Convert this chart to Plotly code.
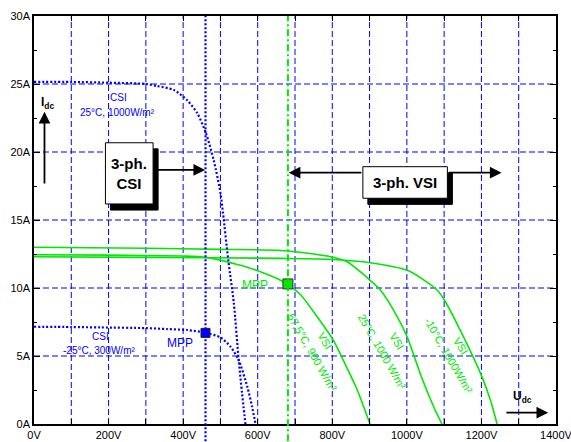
import plotly.graph_objects as go

# ---------------- data ----------------
# CSI, 25°C, 1000 W/m²
csi_hot_v = [0, 100, 200, 300, 330, 375, 411, 438, 461, 482, 500, 507, 521, 536, 549, 558, 567]
csi_hot_i = [25.15, 25.15, 25.1, 25.0, 24.85, 24.56, 23.8, 22.85, 21.4, 19.4, 17.0, 15.5, 12.06, 8.87, 4.7, 2.26, 0.0]
# CSI, -25°C, 300 W/m²
csi_cold_v = [0, 100, 179, 300, 357, 411, 461, 500, 527, 549, 572, 585, 594]
csi_cold_i = [7.15, 7.13, 7.1, 7.05, 6.98, 6.91, 6.7, 6.37, 5.69, 4.7, 2.75, 1.27, 0.0]
# VSI, 67,5°C, 900 W/m²
vsi_hot_v = [0, 200, 400, 447, 500, 536, 570, 607, 652, 681, 715, 759, 802, 831, 867, 901]
vsi_hot_i = [12.45, 12.42, 12.35, 12.3, 12.05, 11.8, 11.55, 11.2, 10.7, 10.25, 9.5, 7.9, 6.2, 4.6, 2.5, 0.0]
# VSI, 25°C, 1000 W/m²
vsi_mid_v = [0, 300, 500, 661, 750, 802, 840, 875, 900, 929, 974, 1001, 1036, 1072, 1094]
vsi_mid_i = [13.0, 12.92, 12.84, 12.76, 12.5, 12.26, 11.93, 11.2, 10.6, 9.85, 7.9, 6.4, 3.7, 1.27, 0.0]
# VSI, -10°C, 1000 W/m²
vsi_cold_v = [0, 300, 661, 802, 902, 1001, 1045, 1081, 1101, 1152, 1201, 1224, 1242]
vsi_cold_i = [12.3, 12.25, 12.18, 12.1, 11.86, 11.3, 10.6, 9.85, 9.1, 6.4, 3.5, 1.76, 0.0]

mpp_csi_v, mpp_csi_i = [460], [6.7]
mpp_vsi_v, mpp_vsi_i = [681], [10.3]

x_ticks = [0, 200, 400, 600, 800, 1000, 1200, 1400]
x_tick_text = ["0V", "200V", "400V", "600V", "800V", "1000V", "1200V", "1400V"]
y_ticks = [0, 5, 10, 15, 20, 25, 30]
y_tick_text = ["0A", "5A", "10A", "15A", "20A", "25A", "30A"]
x_grid = [100, 200, 300, 400, 500, 600, 700, 800, 900, 1000, 1100, 1200, 1300]
y_grid = [5, 10, 15, 20, 25]

vsi_labels = ["67,5°C, 900 W/m²", "25°C, 1000 W/m²", "-10°C, 1000W/m²"]
vsi_label_v = [745, 935, 1113]
vsi_label_i = [5.27, 5.32, 5.02]
vsi_tag_v = [781, 973, 1145]
vsi_tag_i = [6.1, 6.1, 5.75]

# ---------------- styles ----------------
BLUE = "#0000ff"
GREEN = "#00e800"
FONT = "Liberation Sans, Arial, sans-serif"

fig = go.Figure()

# grid (dashed blue)
for gv in x_grid:
    fig.add_shape(type="line", xref="x", yref="y", x0=gv, x1=gv, y0=0, y1=30,
                  line=dict(color=BLUE, width=1, dash="6px,3px"), layer="below")
for gi in y_grid:
    fig.add_shape(type="line", xref="x", yref="y", x0=0, x1=1400, y0=gi, y1=gi,
                  line=dict(color=BLUE, width=1, dash="6px,3px"), layer="below")

def curve(v, i, color, dash, width):
    fig.add_trace(go.Scatter(x=v, y=i, mode="lines",
                             line=dict(color=color, dash=dash, width=width,
                                       shape="spline", smoothing=0.7),
                             hoverinfo="skip", showlegend=False))

curve(vsi_hot_v, vsi_hot_i, GREEN, "solid", 1.6)
curve(vsi_mid_v, vsi_mid_i, GREEN, "solid", 1.6)
curve(vsi_cold_v, vsi_cold_i, GREEN, "solid", 1.6)
curve(csi_hot_v, csi_hot_i, BLUE, "2px,2px", 2.2)
curve(csi_cold_v, csi_cold_i, BLUE, "2px,2px", 2.2)

# vertical MPP voltage lines
fig.add_shape(type="line", xref="x", yref="paper", x0=mpp_csi_v[0], x1=mpp_csi_v[0],
              y0=-0.042, y1=1, line=dict(color=BLUE, width=2.2, dash="2px,2px"), layer="above")
fig.add_shape(type="line", xref="x", yref="paper", x0=mpp_vsi_v[0], x1=mpp_vsi_v[0],
              y0=-0.042, y1=1, line=dict(color=GREEN, width=2, dash="7px,3px,2px,3px"), layer="above")

fig.add_trace(go.Scatter(x=mpp_csi_v, y=mpp_csi_i, mode="markers",
                         marker=dict(symbol="square", size=9, color=BLUE,
                                     line=dict(color="#222222", width=1)),
                         hoverinfo="skip", showlegend=False))
fig.add_trace(go.Scatter(x=mpp_vsi_v, y=mpp_vsi_i, mode="markers",
                         marker=dict(symbol="square", size=10, color=GREEN,
                                     line=dict(color="#333333", width=1)),
                         hoverinfo="skip", showlegend=False))

# boxes with shadows
def box(v0, v1, i0, i1):
    dv, di = 13.4, 0.45
    fig.add_shape(type="rect", xref="x", yref="y", x0=v0 + dv, x1=v1 + dv, y0=i0 - di, y1=i1 - di,
                  fillcolor="black", line=dict(color="black", width=1), layer="above")
    fig.add_shape(type="rect", xref="x", yref="y", x0=v0, x1=v1, y0=i0, y1=i1,
                  fillcolor="white", line=dict(color="black", width=1), layer="above")

box(191.6, 319.4, 16.18, 20.68)
box(882, 1108.7, 16.6, 18.92)

ann = []
def text(t, v, i, color="black", size=10, angle=0, bold=False):
    ann.append(dict(x=v, y=i, xref="x", yref="y", text=(f"<b>{t}</b>" if bold else t),
                    showarrow=False, textangle=angle,
                    font=dict(family=FONT, size=size, color=color)))

def arrow(v_tip, i_tip, v_tail, i_tail):
    ann.append(dict(x=v_tip, y=i_tip, ax=v_tail, ay=i_tail, xref="x", yref="y",
                    axref="x", ayref="y", text="", showarrow=True,
                    arrowhead=2, arrowsize=1.3, arrowwidth=1.8, arrowcolor="black"))

text("3-ph.<br>CSI", 255.5, 18.45, size=15, bold=True)
text("3-ph. VSI", 995.4, 17.76, size=15, bold=True)
arrow(459, 18.68, 319.4, 18.68)
arrow(683, 18.48, 882, 18.48)
arrow(1254, 18.48, 1108.7, 18.48)
arrow(28.1, 22.96, 28.1, 17.57)
arrow(1379, 0.83, 1263, 0.83)
text("I<sub>dc</sub>", 36, 23.6, size=12, bold=True)
text("U<sub>dc</sub>", 1309, 2.0, size=12, bold=True)

text("CSI", 226.4, 24.04, color=BLUE, size=10)
text("25°C, 1000W/m²", 223.8, 22.94, color=BLUE, size=10)
text("CSI", 178.2, 6.47, color=BLUE, size=10)
text("-25°C, 300W/m²", 173.6, 5.37, color=BLUE, size=10)
text("MPP", 392.6, 5.93, color=BLUE, size=12)
text("MPP", 593.5, 10.22, color=GREEN, size=12)

for lab, v, i, tv, ti in zip(vsi_labels, vsi_label_v, vsi_label_i, vsi_tag_v, vsi_tag_i):
    text(lab, v, i, color=GREEN, size=11, angle=60)
    text("VSI", tv, ti, color=GREEN, size=11, angle=60)

fig.update_layout(
    template="none",
    width=571, height=442, autosize=False,
    margin=dict(l=34, r=15, t=16, b=18, pad=0),
    paper_bgcolor="white", plot_bgcolor="white",
    showlegend=False,
    font=dict(family=FONT, size=11, color="black"),
    annotations=ann,
    xaxis=dict(range=[0, 1400], tickvals=x_ticks, ticktext=x_tick_text, automargin=False,
               ticks="inside", ticklen=5, tickcolor="black", tickwidth=1,
               ticklabeloverflow="allow",
               showline=True, linecolor="black", linewidth=1.5, mirror="allticks",
               showgrid=False, zeroline=False, fixedrange=True,
               minor=dict(dtick=100, tick0=0, ticks="inside", ticklen=5, tickcolor="black",
                          showgrid=False),
               tickfont=dict(family=FONT, size=11, color="black")),
    yaxis=dict(range=[0, 30], tickvals=y_ticks, ticktext=y_tick_text, automargin=False,
               ticks="inside", ticklen=6, tickcolor="black", tickwidth=1,
               ticklabeloverflow="allow",
               showline=True, linecolor="black", linewidth=1.5, mirror="allticks",
               showgrid=False, zeroline=False, fixedrange=True,
               minor=dict(dtick=2.5, tick0=0, ticks="inside", ticklen=3, tickcolor="black",
                          showgrid=False),
               tickfont=dict(family=FONT, size=11, color="black")),
)

fig.write_html("out.html", config={"displayModeBar": False},
               post_script="document.body.style.margin='0px';document.body.style.overflow='hidden';")
